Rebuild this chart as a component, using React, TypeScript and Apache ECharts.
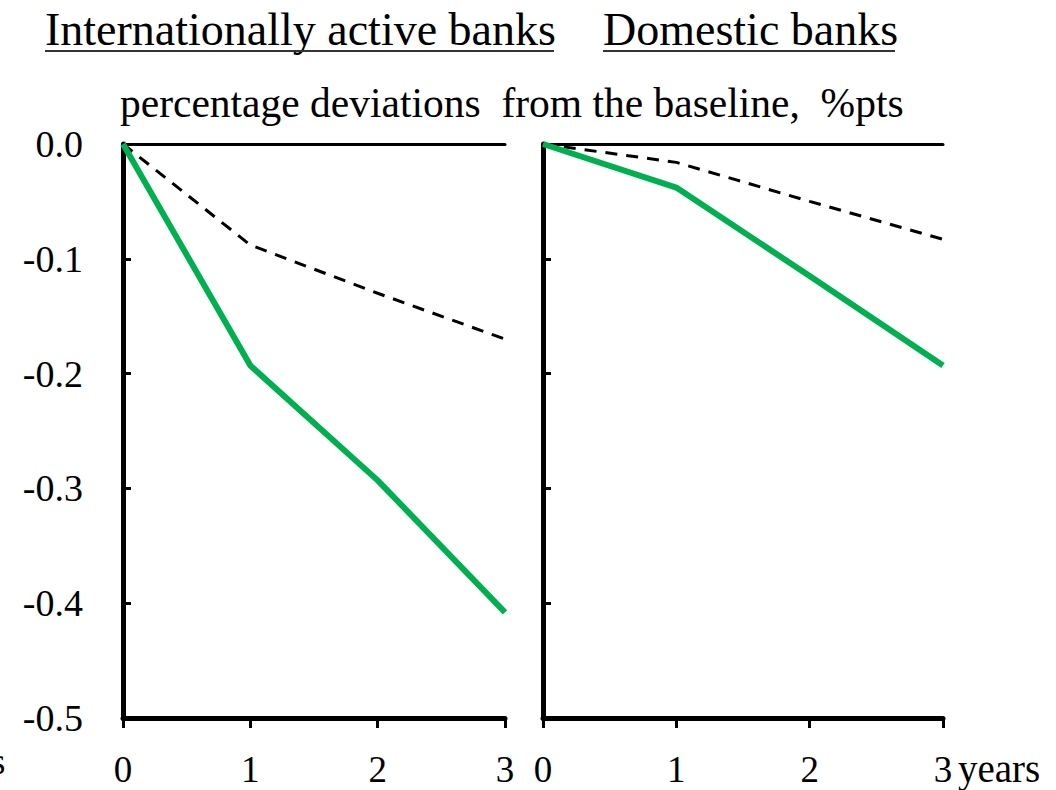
import React, { useEffect, useRef } from "react";
import * as echarts from "echarts";

const years = [0, 1, 2, 3];
const intlGreen = [0, -0.193, -0.293, -0.408];
const intlDashed = [0, -0.088, -0.13, -0.17];
const domGreen = [0, -0.038, -0.115, -0.193];
const domDashed = [0, -0.016, -0.05, -0.083];
const yTicks = { min: -0.5, max: 0, interval: 0.1 };

const FONT = "'Liberation Serif', 'Times New Roman', serif";
const GREEN = "#00B050";

function pairs(vals: number[]) {
  return years.map((x, i) => [x, vals[i]]);
}

export default function App() {
  const ref = useRef<HTMLDivElement>(null);
  useEffect(() => {
    if (!ref.current) return;
    const chart = echarts.init(ref.current, null, { renderer: "svg" });
    const grids = [
      { left: 123, top: 144, width: 382, height: 574 },
      { left: 543, top: 144, width: 400, height: 574 },
    ];
    const xAxes: any[] = [];
    const yAxes: any[] = [];
    grids.forEach((_, gi) => {
      xAxes.push({
        type: "value",
        gridIndex: gi,
        min: 0,
        max: 3,
        interval: 1,
        position: "bottom",
        axisLine: { show: true, onZero: false, lineStyle: { color: "#000", width: 5 } },
        axisTick: { show: true, inside: false, length: 10, lineStyle: { color: "#000", width: 3 } },
        axisLabel: { show: true, color: "#000", fontFamily: FONT, fontSize: 37, margin: 33 },
        splitLine: { show: false },
      });
      xAxes.push({
        type: "value",
        gridIndex: gi,
        min: 0,
        max: 3,
        position: "top",
        axisLine: { show: true, onZero: false, lineStyle: { color: "#000", width: 3 } },
        axisTick: { show: false },
        axisLabel: { show: false },
        splitLine: { show: false },
      });
      yAxes.push({
        type: "value",
        gridIndex: gi,
        min: yTicks.min,
        max: yTicks.max,
        interval: yTicks.interval,
        axisLine: { show: true, onZero: false, lineStyle: { color: "#000", width: 5 } },
        axisTick: { show: true, inside: true, length: 8, lineStyle: { color: "#000", width: 3 } },
        axisLabel: {
          show: gi === 0,
          color: "#000",
          fontFamily: FONT,
          fontSize: 38,
          margin: 40,
          formatter: (v: number) => v.toFixed(1),
        },
        splitLine: { show: false },
      });
    });
    const mk = (vals: number[], gi: number, dashed: boolean) => ({
      type: "line",
      xAxisIndex: gi * 2,
      yAxisIndex: gi,
      data: pairs(vals),
      symbol: "none",
      z: dashed ? 3 : 4,
      lineStyle: dashed
        ? { color: "#000", width: 3, type: [12, 9] }
        : { color: GREEN, width: 6 },
    });
    chart.setOption({
      animation: false,
      backgroundColor: "#fff",
      grid: grids,
      xAxis: xAxes,
      yAxis: yAxes,
      series: [
        mk(intlDashed, 0, true),
        mk(intlGreen, 0, false),
        mk(domDashed, 1, true),
        mk(domGreen, 1, false),
      ],
      graphic: [
        {
          type: "text",
          left: 45,
          top: 6,
          style: { text: "Internationally active banks", font: `46px ${FONT}`, fill: "#000" },
        },
        { type: "rect", shape: { x: 45, y: 50, width: 509, height: 2 }, style: { fill: "#333" } },
        {
          type: "text",
          left: 603,
          top: 6,
          style: { text: "Domestic banks", font: `46px ${FONT}`, fill: "#000" },
        },
        { type: "rect", shape: { x: 603, y: 50, width: 292, height: 2 }, style: { fill: "#333" } },
        {
          type: "text",
          left: 120,
          top: 82,
          style: {
            text: "percentage deviations  from the baseline,  %pts",
            font: `41.5px ${FONT}`,
            fill: "#000",
          },
        },
        {
          type: "text",
          left: 958,
          top: 749,
          style: { text: "years", font: `39px ${FONT}`, fill: "#000" },
        },
        {
          type: "text",
          x: -9,
          y: 743,
          style: { text: "s", font: `37px ${FONT}`, fill: "#000" },
        },
      ],
    });
    return () => chart.dispose();
  }, []);
  return (
    <div
      ref={ref}
      style={{ position: "absolute", left: 0, top: 0, width: 1056, height: 790 }}
    />
  );
}
